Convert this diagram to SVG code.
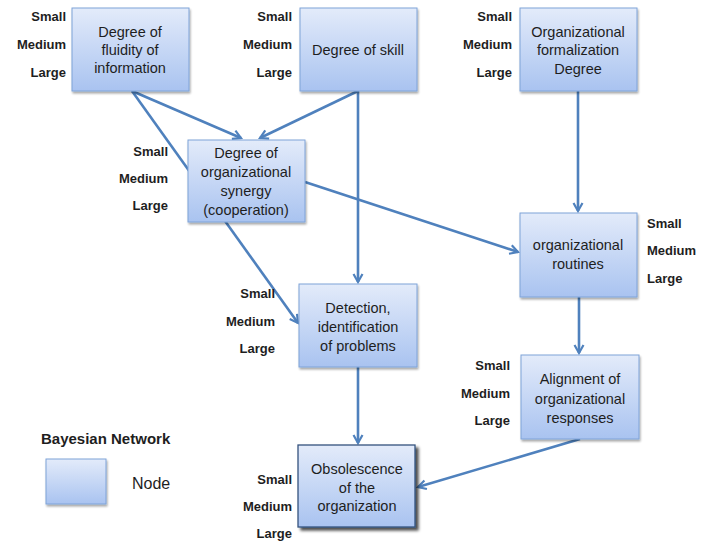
<svg xmlns="http://www.w3.org/2000/svg" width="701" height="541" viewBox="0 0 701 541">
<defs>
<linearGradient id="g" x1="0" y1="0" x2="0" y2="1">
<stop offset="0" stop-color="#e3ebfa"/>
<stop offset="1" stop-color="#a9c3f0"/>
</linearGradient>
<filter id="sh" x="-10%" y="-10%" width="130%" height="130%">
<feGaussianBlur in="SourceAlpha" stdDeviation="1.2"/>
<feOffset dx="1" dy="1.5" result="b"/>
<feComponentTransfer><feFuncA type="linear" slope="0.35"/></feComponentTransfer>
<feMerge><feMergeNode/><feMergeNode in="SourceGraphic"/></feMerge>
</filter>
<filter id="sh2" x="-10%" y="-10%" width="130%" height="130%">
<feGaussianBlur in="SourceAlpha" stdDeviation="1.5"/>
<feOffset dx="2.5" dy="2.5" result="b"/>
<feComponentTransfer><feFuncA type="linear" slope="0.7"/></feComponentTransfer>
<feMerge><feMergeNode/><feMergeNode in="SourceGraphic"/></feMerge>
</filter>
<marker id="ah" markerWidth="12" markerHeight="12" refX="9" refY="5" orient="auto" markerUnits="userSpaceOnUse" viewBox="0 0 12 10">
<path d="M1,0.5 L9,5 L1,9.5" fill="none" stroke="#4f81bd" stroke-width="2.2" stroke-linejoin="miter"/>
</marker>
</defs>
<style>
.n{fill:url(#g);stroke:#7fa3d8;stroke-width:1;filter:url(#sh)}
.n2{fill:url(#g);stroke:#34527e;stroke-width:1.3;filter:url(#sh2)}
.t{font-family:"Liberation Sans",Arial,sans-serif;font-size:14.5px;fill:#1e1e1e;text-anchor:middle}
.l{font-family:"Liberation Sans",Arial,sans-serif;font-size:13px;font-weight:bold;fill:#1e1e1e;text-anchor:end}
.lr{text-anchor:start}
.e{fill:none;stroke:#4f81bd;stroke-width:2.6;marker-end:url(#ah)}
</style>
<rect width="701" height="541" fill="#ffffff"/>

<g id="connectors">
<line class="e" x1="132" y1="91" x2="298" y2="323"/>
<line class="e" x1="132" y1="91" x2="241" y2="138"/>
<line class="e" x1="358" y1="91" x2="260" y2="138"/>
<line class="e" x1="358" y1="91" x2="358" y2="282"/>
<line class="e" x1="578" y1="91" x2="578" y2="211"/>
<line class="e" x1="305" y1="182" x2="518" y2="252"/>
<line class="e" x1="579" y1="297" x2="579" y2="353"/>
<line class="e" x1="358" y1="367" x2="358" y2="443"/>
<line class="e" x1="580" y1="439" x2="418" y2="487"/>
</g>

<g id="node-fluidity">
<rect class="n" x="72" y="8" width="117" height="83"/>
<text class="t" x="130" y="37">Degree of</text>
<text class="t" x="130" y="55">fluidity of</text>
<text class="t" x="130" y="73">information</text>
<text class="l" x="66" y="21">Small</text>
<text class="l" x="66" y="49">Medium</text>
<text class="l" x="66" y="77">Large</text>
</g>

<g id="node-skill">
<rect class="n" x="300" y="8" width="117" height="83"/>
<text class="t" x="358" y="55">Degree of skill</text>
<text class="l" x="292" y="21">Small</text>
<text class="l" x="292" y="49">Medium</text>
<text class="l" x="292" y="77">Large</text>
</g>

<g id="node-formalization">
<rect class="n" x="520" y="8" width="117" height="83"/>
<text class="t" x="578" y="37">Organizational</text>
<text class="t" x="578" y="55">formalization</text>
<text class="t" x="578" y="74">Degree</text>
<text class="l" x="512" y="21">Small</text>
<text class="l" x="512" y="49">Medium</text>
<text class="l" x="512" y="77">Large</text>
</g>

<g id="node-synergy">
<rect class="n" x="188" y="140" width="117" height="82"/>
<text class="t" x="246" y="158">Degree of</text>
<text class="t" x="246" y="177">organizational</text>
<text class="t" x="246" y="196">synergy</text>
<text class="t" x="246" y="215">(cooperation)</text>
<text class="l" x="168" y="156">Small</text>
<text class="l" x="168" y="183">Medium</text>
<text class="l" x="168" y="210">Large</text>
</g>

<g id="node-routines">
<rect class="n" x="520" y="213" width="117" height="84"/>
<text class="t" x="578" y="250">organizational</text>
<text class="t" x="578" y="269">routines</text>
<text class="l lr" x="647" y="228">Small</text>
<text class="l lr" x="647" y="255">Medium</text>
<text class="l lr" x="647" y="283">Large</text>
</g>

<g id="node-detection">
<rect class="n" x="299" y="284" width="118" height="83"/>
<text class="t" x="358" y="313">Detection,</text>
<text class="t" x="358" y="332">identification</text>
<text class="t" x="358" y="351">of problems</text>
<text class="l" x="275" y="298">Small</text>
<text class="l" x="275" y="326">Medium</text>
<text class="l" x="275" y="353">Large</text>
</g>

<g id="node-alignment">
<rect class="n" x="521" y="355" width="118" height="84"/>
<text class="t" x="580" y="384">Alignment of</text>
<text class="t" x="580" y="404">organizational</text>
<text class="t" x="580" y="423">responses</text>
<text class="l" x="510" y="370">Small</text>
<text class="l" x="510" y="398">Medium</text>
<text class="l" x="510" y="425">Large</text>
</g>

<g id="node-obsolescence">
<rect class="n2" x="298" y="445" width="117" height="82"/>
<text class="t" x="357" y="474">Obsolescence</text>
<text class="t" x="357" y="493">of the</text>
<text class="t" x="357" y="511">organization</text>
<text class="l" x="292" y="484">Small</text>
<text class="l" x="292" y="511">Medium</text>
<text class="l" x="292" y="538">Large</text>
</g>

<g id="legend">
<text x="41" y="444" font-family="'Liberation Sans',Arial,sans-serif" font-size="15" font-weight="bold" fill="#1e1e1e">Bayesian Network</text>
<rect class="n" x="46" y="459" width="60" height="45"/>
<text x="132" y="489" font-family="'Liberation Sans',Arial,sans-serif" font-size="16" fill="#1e1e1e">Node</text>
</g>
</svg>
